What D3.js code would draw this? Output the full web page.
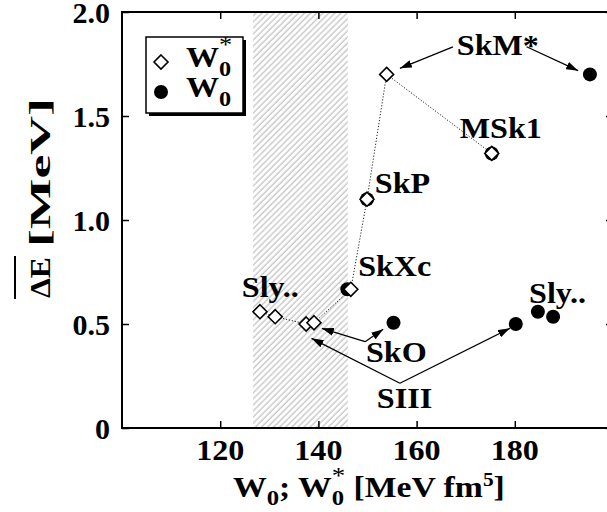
<!DOCTYPE html>
<html><head><meta charset="utf-8">
<script src="https://cdn.jsdelivr.net/npm/d3@7"></script>
<style>html,body{margin:0;padding:0;background:#fff}svg{display:block}</style>
</head><body>
<svg id="chart" width="607" height="512"></svg>
<script>
// Skyrme forces: spin-orbit strength W0* (open diamonds) and W0 (filled dots)
const forces = ["Sly.. (a)", "Sly.. (b)", "SIII", "SkO", "SkXc", "SkP", "SkM*", "MSk1"];
const w0Star = [128.1, 131.2, 137.5, 139.1, 146.6, 149.9, 153.9, 175.3];
const w0     = [184.7, 187.8, 180.2, 155.3, 145.9, 149.9, 195.3, 175.3];
const deltaE = [0.559, 0.535, 0.500, 0.506, 0.667, 1.100, 1.700, 1.320];

const xTicks = [120, 140, 160, 180];
const yTicks = [0, 0.5, 1.0, 1.5, 2.0];
const yTickLabels = ["0", "0.5", "1.0", "1.5", "2.0"];
const xDomain = [100, 200];
const yDomain = [0, 2];
const bandRange = [126.7, 146.0];

// annotation texts, anchored in data units (left end of baseline)
const labelText = ["SkM*", "MSk1", "SkP", "SkXc", "Sly..", "Sly..", "SkO", "SIII"];
const labelX    = [168.2, 168.8, 151.5, 148.1, 124.4, 182.9, 149.7, 151.9];
const labelY    = [1.793, 1.394, 1.130, 0.731, 0.631, 0.600, 0.319, 0.095];

// arrows: tail and head in data units
const arrowFrom = [[167.4, 1.832], [182.4, 1.833], [149.5, 0.415], [149.5, 0.415], [156.6, 0.215], [156.6, 0.215]];
const arrowTo   = [[156.6, 1.729], [192.9, 1.718], [140.7, 0.479], [153.2, 0.475], [138.6, 0.431], [179.0, 0.479]];

const FONT = "'Liberation Serif', 'Times New Roman', serif";
const WIDEN = 1.07;   // the figure's lettering runs slightly wide
const svg = d3.select("#chart");
const plot = {left: 122, right: 613, top: 12, bottom: 428};

const x = d3.scaleLinear().domain(xDomain).range([plot.left, plot.right]);
const y = d3.scaleLinear().domain(yDomain).range([plot.bottom, plot.top]);

function widen(sel, k) {
  sel.each(function () {
    const L = this.getComputedTextLength();
    d3.select(this).attr("textLength", L * k).attr("lengthAdjust", "spacingAndGlyphs");
  });
}
function boldText(sel, size) {
  return sel.attr("font-family", FONT).attr("font-weight", "bold").attr("font-size", size);
}

const defs = svg.append("defs");
const pat = defs.append("pattern").attr("id", "hatch")
  .attr("patternUnits", "userSpaceOnUse").attr("width", 4.3).attr("height", 4.3)
  .attr("patternTransform", "rotate(45)");
pat.append("line").attr("x1", 1).attr("y1", -1).attr("x2", 1).attr("y2", 5.3)
  .attr("stroke", "#c9c9c9").attr("stroke-width", 1.4);
defs.append("clipPath").attr("id", "plotclip").append("rect")
  .attr("x", plot.left).attr("y", plot.top)
  .attr("width", plot.right - plot.left).attr("height", plot.bottom - plot.top);
defs.append("marker").attr("id", "head").attr("viewBox", "0 0 12 8")
  .attr("refX", 12).attr("refY", 4).attr("markerWidth", 12).attr("markerHeight", 8)
  .attr("markerUnits", "userSpaceOnUse").attr("orient", "auto")
  .append("path").attr("d", "M0,0 L12,4 L0,8 Z").attr("fill", "#000");

// hatched band
svg.append("rect")
  .attr("x", x(bandRange[0])).attr("y", plot.top)
  .attr("width", x(bandRange[1]) - x(bandRange[0])).attr("height", plot.bottom - plot.top)
  .attr("fill", "url(#hatch)");

// frame with inward ticks on all four sides
const tickLen = 7;
function styleAxis(g) {
  g.select(".domain").remove();
  g.selectAll(".tick line").attr("stroke", "#000").attr("stroke-width", 1.5);
}
svg.append("g").attr("transform", `translate(0,${plot.bottom})`)
  .call(d3.axisBottom(x).tickValues(xTicks).tickSize(-tickLen).tickFormat("")).call(styleAxis);
svg.append("g").attr("transform", `translate(0,${plot.top})`)
  .call(d3.axisTop(x).tickValues(xTicks).tickSize(-tickLen).tickFormat("")).call(styleAxis);
svg.append("g").attr("transform", `translate(${plot.left},0)`)
  .call(d3.axisLeft(y).tickValues(yTicks).tickSize(-tickLen).tickFormat("")).call(styleAxis);
svg.append("g").attr("transform", `translate(${plot.right},0)`)
  .call(d3.axisRight(y).tickValues(yTicks).tickSize(-tickLen).tickFormat("")).call(styleAxis);
svg.append("rect").attr("x", plot.left).attr("y", plot.top)
  .attr("width", plot.right - plot.left).attr("height", plot.bottom - plot.top)
  .attr("fill", "none").attr("stroke", "#000").attr("stroke-width", 2);

// tick labels
svg.append("g").selectAll("text").data(xTicks).join("text")
  .attr("x", d => x(d)).attr("y", plot.bottom + 32).attr("text-anchor", "middle")
  .call(boldText, 30).text(d => d).call(widen, WIDEN);
svg.append("g").selectAll("text").data(yTicks).join("text")
  .attr("x", plot.left - 12).attr("y", d => y(d) + 11).attr("text-anchor", "end")
  .call(boldText, 30).text((d, i) => yTickLabels[i]);

// x-axis title
const xg = svg.append("g");
const xt = xg.append("text").attr("x", 0).attr("y", 0).call(boldText, 30);
xt.append("tspan").text("W");
xt.append("tspan").attr("font-size", 22).attr("dy", 8).text("0");
xt.append("tspan").attr("dy", -8).text("; W");
xt.append("tspan").attr("font-size", 22).attr("dy", 8).text("0");
xt.append("tspan").attr("font-size", 24).attr("font-weight", "normal")
  .attr("dx", -11).attr("dy", -22).text("*");
xt.append("tspan").attr("dy", 14).text(" [MeV fm");
xt.append("tspan").attr("font-size", 19).attr("dy", -11).text("5");
xt.append("tspan").attr("dy", 11).text("]");
{
  const bb = xt.node().getBBox();
  const sx = 272 / bb.width;
  xg.attr("transform", `translate(${369 - sx * (bb.x + bb.width / 2)},497) scale(${sx},1)`);
}

// y-axis title, ΔE carrying an overline
const yg = svg.append("g").attr("transform", "translate(50,198) rotate(-90)");
yg.append("text").attr("x", -100).attr("y", 0).call(boldText, 30)
  .attr("textLength", 41).attr("lengthAdjust", "spacingAndGlyphs").text("\u0394E");
yg.append("text").attr("x", -49).attr("y", 0).call(boldText, 30)
  .attr("textLength", 149).attr("lengthAdjust", "spacingAndGlyphs").text("[MeV]");
yg.append("line").attr("x1", -101).attr("x2", -58).attr("y1", -35).attr("y2", -35)
  .attr("stroke", "#000").attr("stroke-width", 2);

// data layer
const gData = svg.append("g").attr("clip-path", "url(#plotclip)");
const order = d3.range(forces.length).sort((a, b) => w0Star[a] - w0Star[b]);
gData.append("path")
  .attr("d", d3.line().x(i => x(w0Star[i])).y(i => y(deltaE[i]))(order))
  .attr("fill", "none").attr("stroke", "#222").attr("stroke-width", 1)
  .attr("stroke-dasharray", "1.2,1.8");

gData.append("g").selectAll("circle").data(forces).join("circle")
  .attr("cx", (d, i) => x(w0[i])).attr("cy", (d, i) => y(deltaE[i])).attr("r", 7)
  .attr("fill", "#000");

const diamond = "M0,-7 L7,0 L0,7 L-7,0 Z";
gData.append("g").selectAll("path").data(forces).join("path")
  .attr("transform", (d, i) => `translate(${x(w0Star[i])},${y(deltaE[i])})`)
  .attr("d", diamond).attr("fill", "#fff").attr("stroke", "#000").attr("stroke-width", 1.6);

// arrows
svg.append("g").selectAll("line").data(arrowFrom).join("line")
  .attr("x1", d => x(d[0])).attr("y1", d => y(d[1]))
  .attr("x2", (d, i) => x(arrowTo[i][0])).attr("y2", (d, i) => y(arrowTo[i][1]))
  .attr("stroke", "#000").attr("stroke-width", 1.3).attr("marker-end", "url(#head)");

// labels
svg.append("g").selectAll("text").data(labelText).join("text")
  .attr("x", (d, i) => x(labelX[i])).attr("y", (d, i) => y(labelY[i]))
  .call(boldText, 30).text(d => d).call(widen, WIDEN);

// legend
const lg = svg.append("g");
lg.append("rect").attr("x", 149).attr("y", 40).attr("width", 97).attr("height", 76).attr("fill", "#000");
lg.append("rect").attr("x", 146).attr("y", 37).attr("width", 97).attr("height", 76)
  .attr("fill", "#fff").attr("stroke", "#000").attr("stroke-width", 1.5);
lg.append("path").attr("transform", "translate(161,62)").attr("d", diamond)
  .attr("fill", "#fff").attr("stroke", "#000").attr("stroke-width", 1.6);
lg.append("circle").attr("cx", 161).attr("cy", 92).attr("r", 7).attr("fill", "#000");
const l1 = lg.append("g").attr("transform", "translate(186,67) scale(1.1,1)")
  .append("text").call(boldText, 30);
l1.append("tspan").text("W");
l1.append("tspan").attr("font-size", 22).attr("dy", 9).text("0");
l1.append("tspan").attr("font-size", 24).attr("font-weight", "normal")
  .attr("dx", -11).attr("dy", -24).text("*");
const l2 = lg.append("g").attr("transform", "translate(186,97) scale(1.1,1)")
  .append("text").call(boldText, 30);
l2.append("tspan").text("W");
l2.append("tspan").attr("font-size", 22).attr("dy", 9).text("0");
</script>
</body></html>
